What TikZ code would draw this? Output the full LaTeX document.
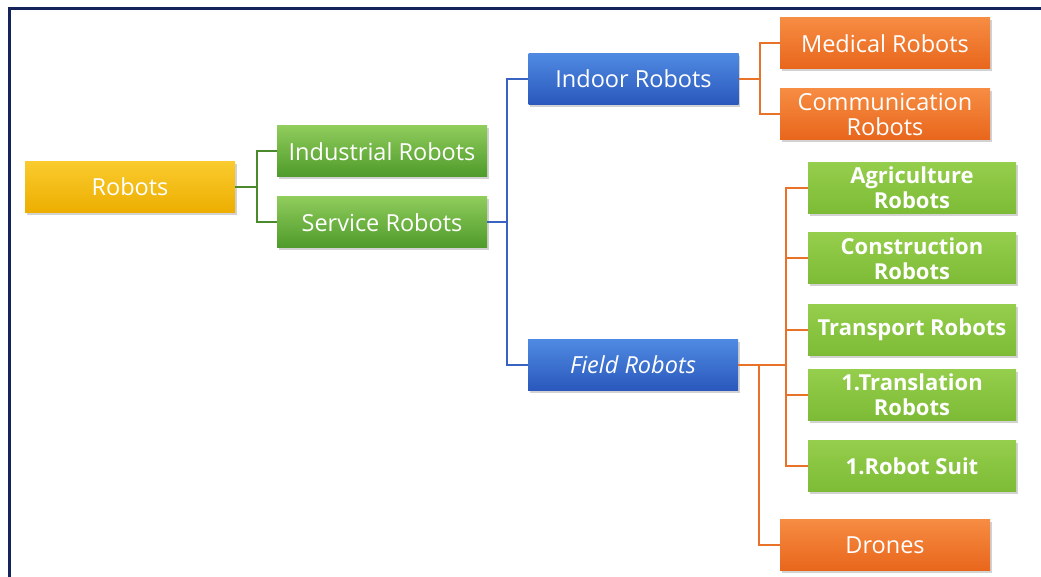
\documentclass[tikz,border=0pt]{standalone}
\usepackage{fontspec}
\setmainfont{Open Sans}
\usetikzlibrary{shadows}
\definecolor{frame}{HTML}{14245A}
\definecolor{goldT}{HTML}{F9CB2E}\definecolor{goldB}{HTML}{EDAE00}
\definecolor{dgT}{HTML}{8FCC5C}\definecolor{dgB}{HTML}{4E9A2A}
\definecolor{blT}{HTML}{4F8AE2}\definecolor{blB}{HTML}{2A58BC}
\definecolor{orT}{HTML}{F68C42}\definecolor{orB}{HTML}{E8661C}
\definecolor{lgT}{HTML}{95CE4C}\definecolor{lgB}{HTML}{7DBB36}
\definecolor{gline}{HTML}{4A8A2C}
\definecolor{bline}{HTML}{3A62C0}
\definecolor{oline}{HTML}{E87228}
\tikzset{
  box/.style={rectangle, minimum width=210pt, minimum height=51pt, inner sep=0pt,
    text=white, align=center, font=\fontsize{23.5}{25}\selectfont,
    drop shadow={shadow xshift=1.5pt, shadow yshift=-2.5pt, opacity=0.35}},
  goldbox/.style={box, top color=goldT, bottom color=goldB},
  dgbox/.style={box, top color=dgT, bottom color=dgB},
  blbox/.style={box, top color=blT, bottom color=blB},
  orbox/.style={box, top color=orT, bottom color=orB},
  lgbox/.style={box, minimum width=208pt, top color=lgT, bottom color=lgB, font=\fontsize{22}{25}\selectfont\bfseries},
  conn/.style={line width=2pt},
}
\begin{document}
\begin{tikzpicture}[x=1pt,y=-1pt]
\useasboundingbox (0,0) rectangle (1041,577);
\fill[white] (0,0) rectangle (1041,577);
\draw[frame, line width=3pt] (9.5,577) -- (9.5,9) -- (1041,9);

\node[goldbox] (robots) at (130,187) {Robots};
\node[dgbox] (ind) at (382,151.5) {Industrial Robots};
\node[dgbox] (serv) at (382,222.5) {Service Robots};
\node[blbox] (indoor) at (633.5,79) {Indoor Robots};
\node[blbox] (field) at (633,365) {\itshape Field Robots};
\node[orbox] (med) at (885,43.5) {Medical Robots};
\node[orbox] (comm) at (885,114.5) {Communication\\Robots};
\node[lgbox] (agri) at (912,188) {Agriculture\\Robots};
\node[lgbox] (constr) at (912,258.5) {Construction\\Robots};
\node[lgbox] (trans) at (912,330) {Transport Robots};
\node[lgbox] (transl) at (912,394.5) {1.Translation\\Robots};
\node[lgbox] (suit) at (912,466) {1.Robot Suit};
\node[orbox] (drones) at (885,545) {Drones};

\draw[conn, gline] (robots.east) -- ++(22,0) |- (ind.west);
\draw[conn, gline] (robots.east) -- ++(22,0) |- (serv.west);
\draw[conn, bline] (serv.east) -- ++(20,0) |- (indoor.west);
\draw[conn, bline] (serv.east) -- ++(20,0) |- (field.west);
\draw[conn, oline] (indoor.east) -- ++(21,0) |- (med.west);
\draw[conn, oline] (indoor.east) -- ++(21,0) |- (comm.west);
\foreach \c in {agri,constr,trans,transl,suit}
  \draw[conn, oline] (field.east) -- ++(48,0) |- (\c.west);
\draw[conn, oline] (field.east) -- ++(21,0) |- (drones.west);
\end{tikzpicture}
\end{document}
